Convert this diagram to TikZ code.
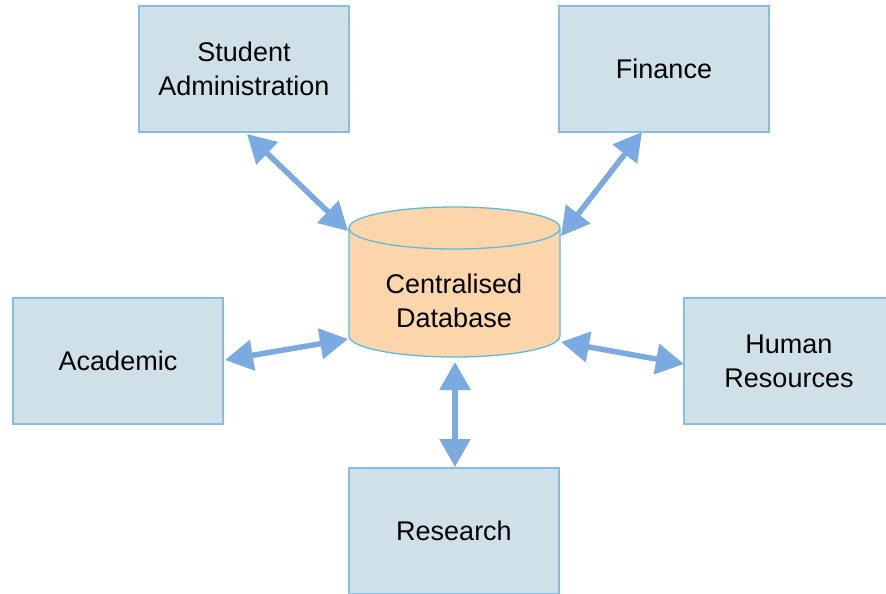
\documentclass[tikz,border=0pt]{standalone}
\usepackage{fontspec}
\setmainfont{Liberation Sans}
\usetikzlibrary{arrows.meta}
\definecolor{boxfill}{HTML}{CFE0E8}
\definecolor{boxline}{HTML}{86BDE0}
\definecolor{dbfill}{HTML}{FCD5AA}
\definecolor{dbline}{HTML}{5DBBDD}
\definecolor{arrowc}{HTML}{7BAAE0}
\begin{document}
\begin{tikzpicture}[x=1pt,y=-1pt,
  dept/.style={draw=boxline, line width=1.5pt, fill=boxfill, minimum width=210pt,
    minimum height=126pt, align=center, inner sep=0pt,
    font=\fontsize{27}{34}\selectfont},
  dblabel/.style={align=center, inner sep=0pt, font=\fontsize{27}{34}\selectfont},
  link/.style={draw=arrowc, line width=5.5pt,
    {Triangle[width=30pt,length=28pt]}-{Triangle[width=30pt,length=28pt]}}]
\useasboundingbox (0,0) rectangle (886,594);

% departments
\node[dept] (sa) at (244,69) {Student\\Administration};
\node[dept] (fin) at (664,69) {Finance};
\node[dept] (acad) at (118,361) {Academic};
\node[dept] (hr) at (789,361) {Human\\Resources};
\node[dept] (res) at (454,531) {Research};

% centralised database cylinder
\draw[draw=dbline, fill=dbfill, line width=1.3pt]
  (349,228) -- (349,336) arc[start angle=180, end angle=360, x radius=105.5pt, y radius=21pt]
  -- (560,228) arc[start angle=0, end angle=180, x radius=105.5pt, y radius=21pt] -- cycle;
\draw[draw=dbline, line width=1.3pt]
  (349,228) arc[start angle=180, end angle=360, x radius=105.5pt, y radius=21pt];
\node[dblabel] (db) at (454,301) {Centralised\\Database};

% connector end points on the cylinder and boxes
\coordinate (saE) at (247,134);
\coordinate (dbSA) at (348,231);
\coordinate (finE) at (642,132);
\coordinate (dbFin) at (561,236);
\coordinate (acadE) at (225,360);
\coordinate (dbAcad) at (348,339);
\coordinate (hrE) at (684,364);
\coordinate (dbHR) at (561,342);
\coordinate (dbRes) at (455,362);
\coordinate (resE) at (455,467);

\draw[link] (saE) -- (dbSA);
\draw[link] (finE) -- (dbFin);
\draw[link] (acadE) -- (dbAcad);
\draw[link] (dbHR) -- (hrE);
\draw[link] (dbRes) -- (resE);
\end{tikzpicture}
\end{document}
